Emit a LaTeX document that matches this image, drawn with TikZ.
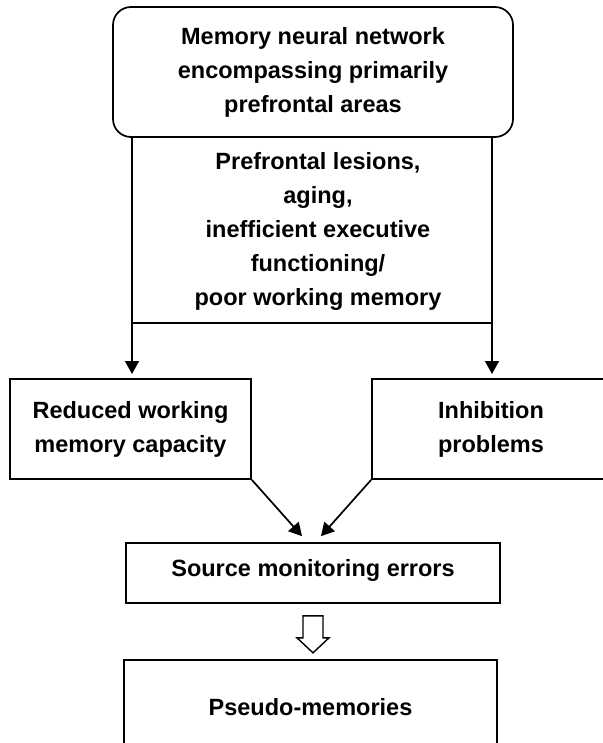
\documentclass[tikz,border=0pt]{standalone}
\usepackage{fontspec}
\setmainfont{Liberation Sans}
\usetikzlibrary{arrows.meta,calc}
\begin{document}
\begin{tikzpicture}[x=1pt,y=-1pt,
  txt/.style={align=center,font=\fontsize{23.5}{34}\selectfont\bfseries,inner sep=0pt},
  box/.style={txt,draw,line width=1.7pt},
  arr/.style={-{Triangle[width=14pt,length=13pt]},line width=1.7pt},
  ln/.style={line width=1.7pt}]
\useasboundingbox (0,0) rectangle (602,743);
\node[box,rounded corners=18pt,minimum width=400pt,minimum height=130pt] (top) at (313,72)
  {Memory neural network\\encompassing primarily\\prefrontal areas};
\node[txt] (causes) at (318,231)
  {Prefrontal lesions,\\aging,\\inefficient executive\\functioning/\\poor working memory};
\node[box,minimum width=241pt,minimum height=100pt] (wm) at (130.5,429)
  {Reduced working\\memory capacity};
\node[box,minimum width=238pt,minimum height=100pt] (inh) at (491,429)
  {Inhibition\\problems};
\node[box,minimum width=374pt,minimum height=60pt] (src) at (313,573)
  {\raisebox{10pt}{Source monitoring errors}};
\node[box,minimum width=373pt,minimum height=100pt] (pm) at (310.5,710)
  {\raisebox{7pt}{Pseudo-memories}};
\coordinate (ltip) at (132,374);
\coordinate (rtip) at (492,374);
\coordinate (lbar) at (132,323);
\coordinate (rbar) at (492,323);
\draw[arr] (top.south -| ltip) -- (ltip);
\draw[arr] (top.south -| rtip) -- (rtip);
\draw[ln] (lbar) -- (rbar);
\coordinate (dl) at ($(src.north)+(-11,-6)$);
\coordinate (dr) at ($(src.north)+(8,-6)$);
\draw[arr] (wm.south east) -- (dl);
\draw[arr] (inh.south west) -- (dr);
\draw[line width=1.4pt,line join=miter]
  ($(src.south)+(-10,12)$) -- ($(src.south)+(-10,34)$) -- ($(src.south)+(-16,34)$)
  -- ($(src.south)+(0,49)$) -- ($(src.south)+(16,34)$) -- ($(src.south)+(10,34)$)
  -- ($(src.south)+(10,12)$) -- cycle;
\end{tikzpicture}
\end{document}
